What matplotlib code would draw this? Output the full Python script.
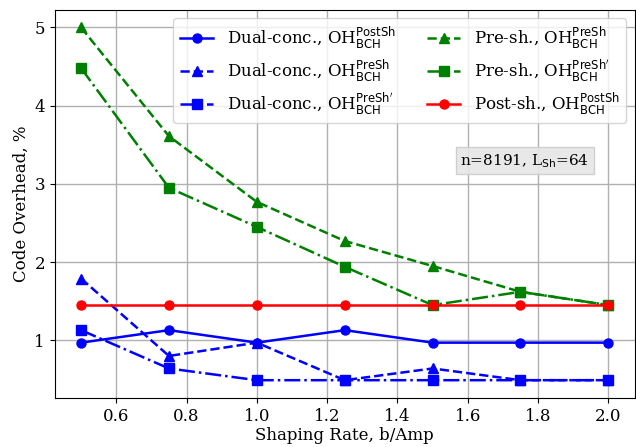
import matplotlib
matplotlib.use("Agg")
import matplotlib.pyplot as plt

plt.rcParams['font.family'] = ['DejaVu Serif']
plt.rcParams['mathtext.fontset'] = 'dejavusans'

rate = [0.5, 0.75, 1.0, 1.25, 1.5, 1.75, 2.0]
dual_postsh = [0.97, 1.13, 0.97, 1.13, 0.97, 0.97, 0.97]
dual_presh = [1.79, 0.80, 0.97, 0.49, 0.64, 0.49, 0.49]
dual_presh_p = [1.13, 0.64, 0.49, 0.49, 0.49, 0.49, 0.49]
pre_presh = [5.0, 3.61, 2.77, 2.27, 1.95, 1.62, 1.45]
pre_presh_p = [4.48, 2.95, 2.45, 1.94, 1.45, 1.62, 1.45]
post_postsh = [1.45, 1.45, 1.45, 1.45, 1.45, 1.45, 1.45]

labels = [
    r"Dual-conc., OH$_{\mathrm{BCH}}^{\mathrm{PostSh}}$",
    r"Dual-conc., OH$_{\mathrm{BCH}}^{\mathrm{PreSh}}$",
    r"Dual-conc., OH$_{\mathrm{BCH}}^{\mathrm{PreSh'}}$",
    r"Pre-sh., OH$_{\mathrm{BCH}}^{\mathrm{PreSh}}$",
    r"Pre-sh., OH$_{\mathrm{BCH}}^{\mathrm{PreSh'}}$",
    r"Post-sh., OH$_{\mathrm{BCH}}^{\mathrm{PostSh}}$",
]

fig = plt.figure(figsize=(6.36, 4.47), dpi=100)
ax = fig.add_axes([0.086, 0.11, 0.912, 0.868])

lw = 1.8
ms = 6.5
ax.plot(rate, dual_postsh, color='blue', linestyle='-', marker='o', lw=lw, ms=ms, label=labels[0])
ax.plot(rate, dual_presh, color='blue', linestyle='--', marker='^', lw=lw, ms=ms, label=labels[1])
ax.plot(rate, dual_presh_p, color='blue', linestyle='-.', marker='s', lw=lw, ms=ms, label=labels[2])
ax.plot(rate, pre_presh, color='green', linestyle='--', marker='^', lw=lw, ms=ms, label=labels[3])
ax.plot(rate, pre_presh_p, color='green', linestyle='-.', marker='s', lw=lw, ms=ms, label=labels[4])
ax.plot(rate, post_postsh, color='red', linestyle='-', marker='o', lw=lw, ms=ms, label=labels[5])

ax.grid(True, color='#b0b0b0', lw=1)
ax.set_xlabel('Shaping Rate, b/Amp', fontsize=12, labelpad=2)
ax.set_ylabel('Code Overhead, %', fontsize=12, labelpad=3)
ax.tick_params(labelsize=12)
ax.set_xticks([0.6, 0.8, 1.0, 1.2, 1.4, 1.6, 1.8, 2.0])
ax.set_yticks([1, 2, 3, 4, 5])

ax.legend(ncol=2, loc='upper right', fontsize=12, columnspacing=1.9,
          labelspacing=0.4)

ax.text(0.81, 0.611, r"n=8191, L$_{\mathrm{Sh}}$=64", transform=ax.transAxes,
        fontsize=11, ha='center', va='center',
        bbox=dict(boxstyle='square,pad=0.3', facecolor='#e6e6e6', edgecolor='#cccccc', alpha=0.9))

fig.savefig('out.png', dpi=100)
